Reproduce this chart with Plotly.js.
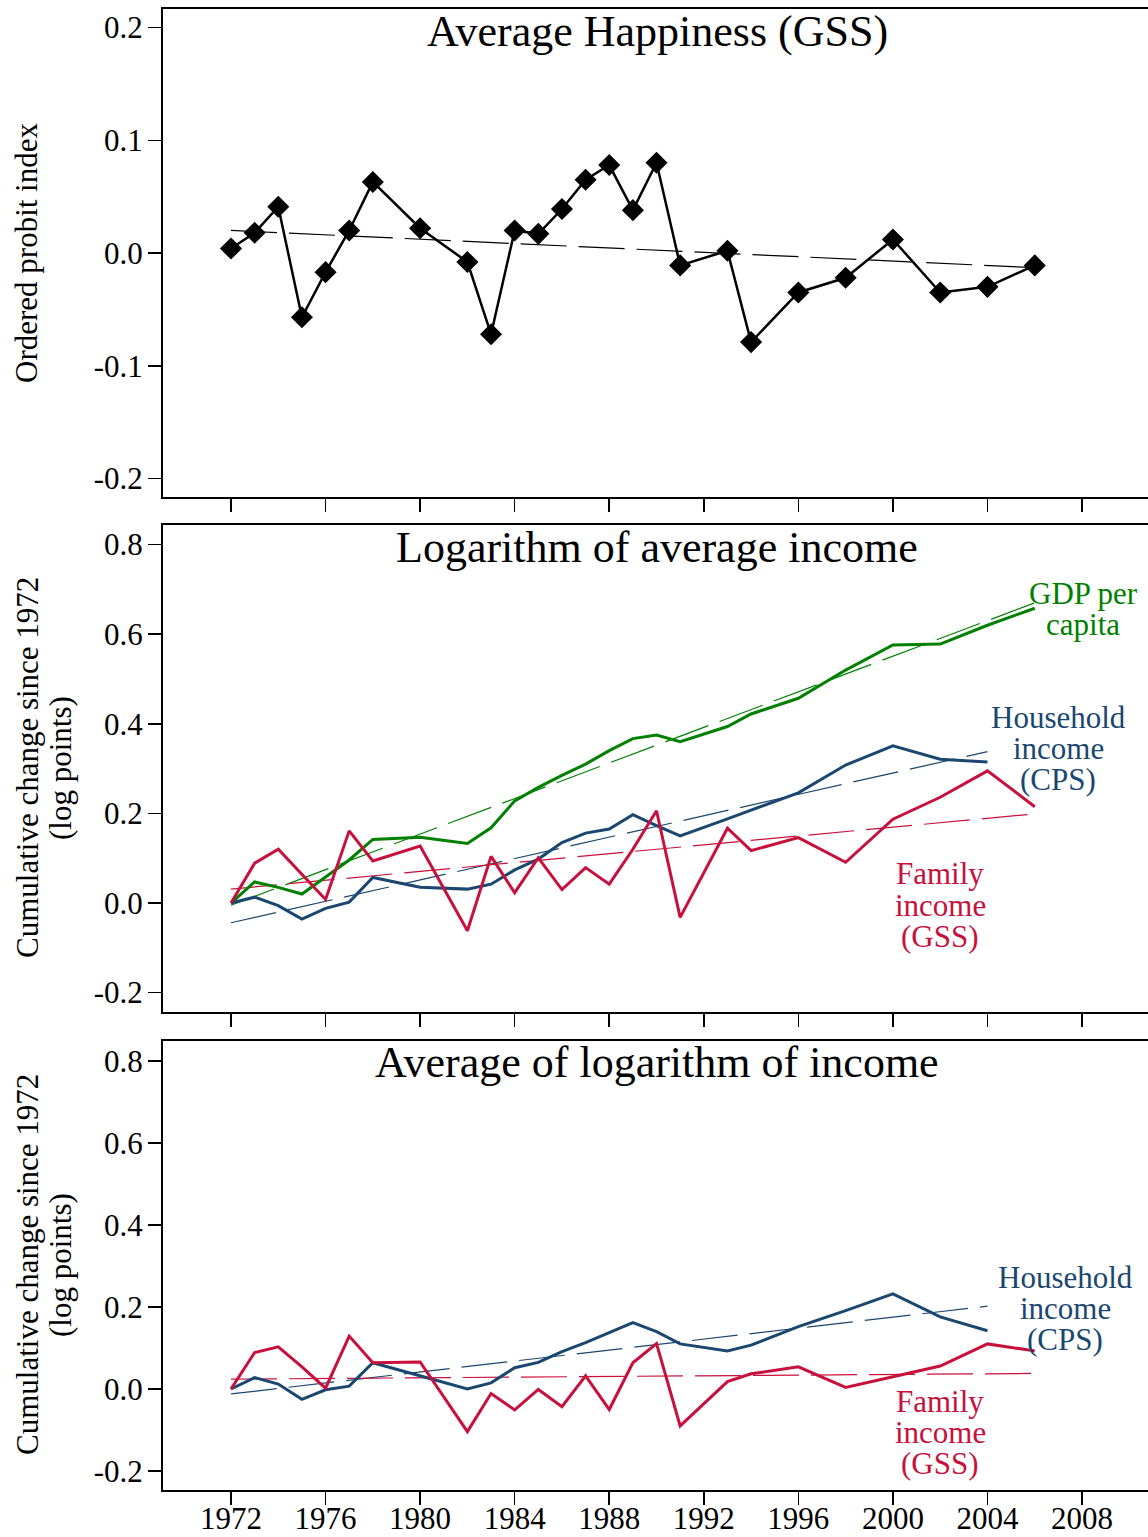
<!DOCTYPE html>
<html>
<head>
<meta charset="utf-8">
<script src="https://cdn.plot.ly/plotly-3.0.1.min.js"></script>
<style>
  html, body { margin: 0; padding: 0; background: #fff; }
  #chart { width: 1148px; height: 1537px; }
</style>
</head>
<body>
<div id="chart"></div>
<script>
// ---------- DATA ----------
const years = [1972,1973,1974,1975,1976,1977,1978,1980,1982,1983,1984,1985,1986,1987,1988,1989,1990,1991,1993,1994,1996,1998,2000,2002,2004,2006];
const yearsCPS = years.slice(0, 25); // CPS series end in 2004

// Panel 1: Average Happiness (GSS), ordered probit index
const happiness = [0.004,0.018,0.041,-0.057,-0.017,0.020,0.063,0.022,-0.008,-0.072,0.020,0.017,0.039,0.065,0.078,0.038,0.080,-0.011,0.002,-0.079,-0.035,-0.022,0.012,-0.035,-0.030,-0.011];
const happinessTrendYears = [1972, 2006];
const happinessTrend = [0.020, -0.013];

// Panel 2: Logarithm of average income
const gdpPerCapita = [0.000,0.047,0.035,0.020,0.058,0.096,0.142,0.147,0.133,0.168,0.228,0.258,0.285,0.310,0.340,0.367,0.375,0.360,0.394,0.422,0.457,0.520,0.576,0.578,0.620,0.658];
const householdLogAvg = [0.000,0.013,-0.006,-0.036,-0.012,0.002,0.057,0.035,0.031,0.042,0.074,0.098,0.135,0.156,0.165,0.197,0.173,0.150,0.188,0.207,0.246,0.308,0.351,0.321,0.315];
const familyLogAvg = [0.000,0.089,0.120,0.065,0.008,0.161,0.094,0.127,-0.062,0.104,0.023,0.101,0.030,0.079,0.042,0.120,0.206,-0.032,0.167,0.117,0.146,0.091,0.187,0.236,0.295,0.215];
const gdpTrendYears = [1972, 2006];
const gdpTrend = [-0.005, 0.670];
const householdAvgTrendYears = [1972, 2004];
const householdAvgTrend = [-0.044, 0.338];
const familyAvgTrendYears = [1972, 2006];
const familyAvgTrend = [0.031, 0.199];

// Panel 3: Average of logarithm of income
const householdAvgLog = [0.000,0.028,0.012,-0.025,-0.002,0.007,0.064,0.032,0.000,0.015,0.052,0.065,0.091,0.113,0.137,0.162,0.140,0.110,0.093,0.107,0.152,0.191,0.232,0.176,0.142];
const familyAvgLog = [0.000,0.089,0.103,0.054,0.002,0.129,0.064,0.066,-0.104,-0.011,-0.051,-0.001,-0.043,0.032,-0.050,0.064,0.111,-0.090,0.018,0.037,0.054,0.004,0.030,0.056,0.110,0.093];
const householdLogTrendYears = [1972, 2004];
const householdLogTrend = [-0.012, 0.202];
const familyLogTrendYears = [1972, 2006];
const familyLogTrend = [0.024, 0.038];

const xTicks = [1972,1976,1980,1984,1988,1992,1996,2000,2004,2008];
const yTicksTop = [-0.2,-0.1,0.0,0.1,0.2];
const yTicksTopText = ["-0.2","-0.1","0.0","0.1","0.2"];
const yTicksIncome = [-0.2,0.0,0.2,0.4,0.6,0.8];
const yTicksIncomeText = ["-0.2","0.0","0.2","0.4","0.6","0.8"];

const panelTitles = ["Average Happiness (GSS)", "Logarithm of average income", "Average of logarithm of income"];

// ---------- STYLE ----------
const FONT = "Liberation Serif, Times New Roman, serif";
const GREEN = "#008000";
const NAVY = "#1a476f";
const RED = "#c8103c";

const W = 1148, H = 1537;
const L = 163, R = 0, T = 9, B = 47;
const plotW = W - L - R, plotH = H - T - B;
const px = x => (x - L) / plotW;
const py = y => (H - B - y) / plotH;

function dataLine(x, y, color, xa, ya, extra) {
  return Object.assign({
    type: "scatter", mode: "lines", x: x, y: y, xaxis: xa, yaxis: ya,
    line: { color: color, width: 3 }, hoverinfo: "skip", showlegend: false
  }, extra || {});
}
function trendLine(x, y, color, xa, ya) {
  return {
    type: "scatter", mode: "lines", x: x, y: y, xaxis: xa, yaxis: ya,
    line: { color: color, width: 1.2, dash: "46px,12px" }, hoverinfo: "skip", showlegend: false
  };
}

const traces = [
  trendLine(happinessTrendYears, happinessTrend, "#000", "x", "y"),
  dataLine(years, happiness, "#000", "x", "y", {
    mode: "lines+markers", line: { color: "#000", width: 2.5 },
    marker: { symbol: "diamond", size: 17, color: "#000" }
  }),

  trendLine(gdpTrendYears, gdpTrend, GREEN, "x2", "y2"),
  trendLine(householdAvgTrendYears, householdAvgTrend, NAVY, "x2", "y2"),
  trendLine(familyAvgTrendYears, familyAvgTrend, RED, "x2", "y2"),
  dataLine(years, gdpPerCapita, GREEN, "x2", "y2"),
  dataLine(yearsCPS, householdLogAvg, NAVY, "x2", "y2"),
  dataLine(years, familyLogAvg, RED, "x2", "y2"),

  trendLine(householdLogTrendYears, householdLogTrend, NAVY, "x3", "y3"),
  trendLine(familyLogTrendYears, familyLogTrend, RED, "x3", "y3"),
  dataLine(yearsCPS, householdAvgLog, NAVY, "x3", "y3"),
  dataLine(years, familyAvgLog, RED, "x3", "y3")
];

const xRange = [1972 + (L - 231) / 23.64, 1972 + (W - 231) / 23.64];

function xAxis(anchor, showLabels) {
  return {
    anchor: anchor, range: xRange, tickvals: xTicks, ticktext: xTicks.map(String),
    showticklabels: showLabels, ticks: "outside", ticklen: 13, tickwidth: 1.5, tickcolor: "#000",
    showline: true, linewidth: 2, linecolor: "#000", mirror: true,
    showgrid: false, zeroline: false, ticklabelstandoff: -13,
    tickfont: { family: FONT, size: 31, color: "#000" }
  };
}
function yAxis(anchor, domain, range, vals, text) {
  return {
    anchor: anchor, domain: domain, range: range, tickvals: vals, ticktext: text,
    ticks: "outside", ticklen: 13, tickwidth: 1.5, tickcolor: "#000",
    showline: true, linewidth: 2, linecolor: "#000",
    showgrid: false, zeroline: false, ticklabelstandoff: -1,
    tickfont: { family: FONT, size: 31, color: "#000" }
  };
}

function ann(text, x, y, size, color, angle) {
  return {
    text: text, xref: "paper", yref: "paper", x: px(x), y: py(y),
    xanchor: "center", yanchor: "middle", showarrow: false,
    textangle: angle || 0,
    font: { family: FONT, size: size, color: color }
  };
}

const annotations = [
  ann(panelTitles[0], 657, 31, 44, "#000"),
  ann(panelTitles[1], 657, 547, 44, "#000"),
  ann(panelTitles[2], 657, 1062, 44, "#000"),

  ann("Ordered probit index", 27, 253, 31, "#000", -90),
  ann("Cumulative change since 1972", 27, 768, 31, "#000", -90),
  ann("(log points)", 60, 768, 31, "#000", -90),
  ann("Cumulative change since 1972", 27, 1265, 31, "#000", -90),
  ann("(log points)", 60, 1265, 31, "#000", -90),

  ann("GDP per", 1083, 593, 31, GREEN),
  ann("capita", 1083, 624, 31, GREEN),
  ann("Household", 1058, 717, 31, NAVY),
  ann("income", 1058, 748, 31, NAVY),
  ann("(CPS)", 1058, 779, 31, NAVY),
  ann("Family", 940, 874, 31, RED),
  ann("income", 940, 905, 31, RED),
  ann("(GSS)", 940, 936, 31, RED),

  ann("Household", 1065, 1277, 31, NAVY),
  ann("income", 1065, 1308, 31, NAVY),
  ann("(CPS)", 1065, 1339, 31, NAVY),
  ann("Family", 940, 1401, 31, RED),
  ann("income", 940, 1432, 31, RED),
  ann("(GSS)", 940, 1463, 31, RED)
];

const layout = {
  width: W, height: H,
  margin: { l: L, r: R, t: T, b: B, pad: 0 },
  paper_bgcolor: "#fff", plot_bgcolor: "#fff",
  font: { family: FONT, color: "#000" },
  showlegend: false,
  xaxis: xAxis("y", false),
  xaxis2: xAxis("y2", false),
  xaxis3: xAxis("y3", true),
  yaxis: yAxis("x", [py(497), 1], [-0.2164, 0.2164], yTicksTop, yTicksTopText),
  yaxis2: yAxis("x2", [py(1012), py(525)], [-0.2433, 0.8438], yTicksIncome, yTicksIncomeText),
  yaxis3: yAxis("x3", [0, py(1041)], [-0.2463, 0.8488], yTicksIncome, yTicksIncomeText),
  annotations: annotations
};

Plotly.newPlot("chart", traces, layout, { staticPlot: true, displayModeBar: false });
</script>
</body>
</html>
